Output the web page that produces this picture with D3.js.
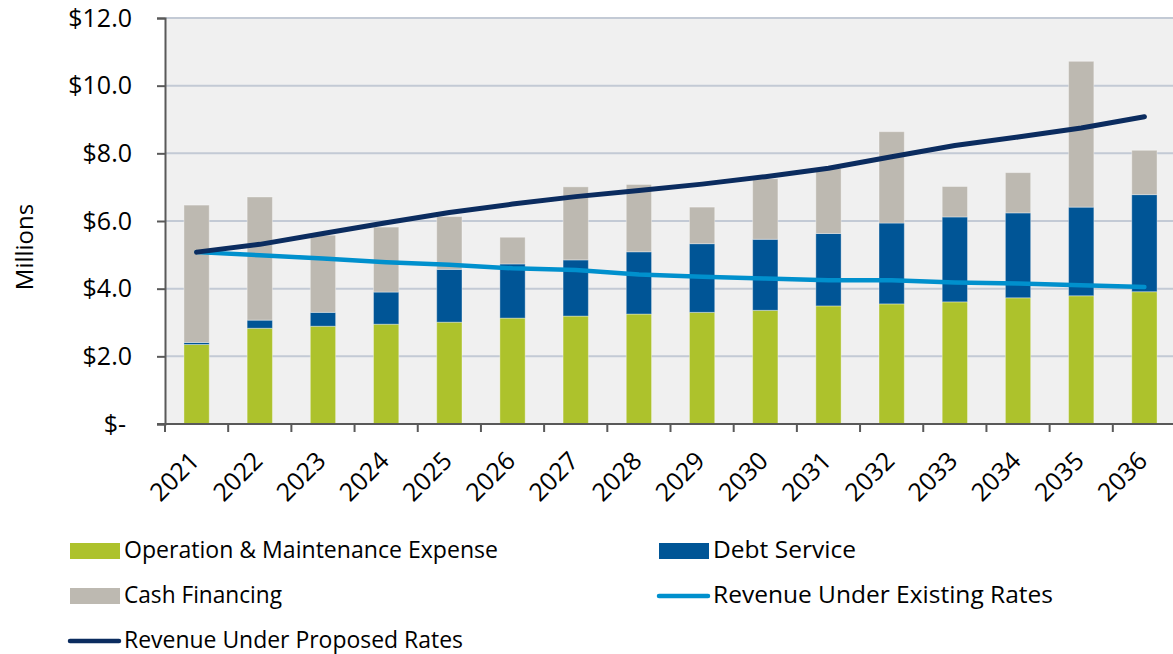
<!DOCTYPE html>
<html>
<head>
<meta charset="utf-8">
<script src="https://cdn.jsdelivr.net/npm/d3@7"></script>
<style>
  body { margin: 0; background: #fff; }
  svg { display: block; font-family: 'Open Sans', sans-serif; }
</style>
</head>
<body>
<svg width="1173" height="654"></svg>
<script>
// values in $ millions
const years = ['2021', '2022', '2023', '2024', '2025', '2026', '2027', '2028',
  '2029', '2030', '2031', '2032', '2033', '2034', '2035', '2036'];
const omExpense = [2.35, 2.83, 2.89, 2.95, 3.01, 3.13, 3.19, 3.25, 3.30, 3.36, 3.49, 3.55, 3.61, 3.73, 3.79, 3.91];
const debtService = [0.06, 0.24, 0.41, 0.95, 1.56, 1.60, 1.66, 1.84, 2.03, 2.10, 2.14, 2.39, 2.51, 2.51, 2.62, 2.87];
const cashFinancing = [4.06, 3.64, 2.28, 1.92, 1.56, 0.79, 2.16, 1.99, 1.08, 1.79, 1.92, 2.70, 0.90, 1.19, 4.31, 1.31];
const existingRates = [5.08, 4.99, 4.89, 4.78, 4.71, 4.60, 4.55, 4.42, 4.35, 4.30, 4.25, 4.25, 4.18, 4.15, 4.10, 4.05];
const proposedRates = [5.08, 5.31, 5.63, 5.95, 6.25, 6.50, 6.72, 6.90, 7.09, 7.31, 7.56, 7.90, 8.23, 8.48, 8.75, 9.08];
const yTicks = [0, 2, 4, 6, 8, 10, 12];

const svg = d3.select('svg');
const width = +svg.attr('width');
const plotLeft = 165, plotTop = 18, plotBottom = 424;

const x = d3.scaleBand()
  .domain(years)
  .range([plotLeft, 1176])
  .paddingInner(0.6)
  .paddingOuter(0.3);
const y = d3.scaleLinear().domain([0, 12]).range([plotBottom, plotTop]);

// plot background
svg.append('rect')
  .attr('x', plotLeft).attr('y', plotTop)
  .attr('width', width - plotLeft).attr('height', plotBottom - plotTop)
  .attr('fill', '#f0f0f0');

// gridlines
svg.append('g')
  .selectAll('line')
  .data(yTicks.filter(d => d > 0))
  .enter().append('line')
    .attr('x1', plotLeft).attr('x2', width)
    .attr('y1', d => y(d)).attr('y2', d => y(d))
    .attr('stroke', '#c3cad5')
    .attr('stroke-width', 2);

// stacked bars
const rows = years.map((yr, i) => ({
  year: yr, om: omExpense[i], debt: debtService[i], cash: cashFinancing[i],
}));
const stack = d3.stack().keys(['om', 'debt', 'cash'])(rows);
const barColor = { om: '#adc22c', debt: '#005596', cash: '#bdb9b1' };

svg.append('g')
  .selectAll('g')
  .data(stack)
  .enter().append('g')
    .attr('fill', d => barColor[d.key])
  .selectAll('rect')
  .data(d => d)
  .enter().append('rect')
    .attr('x', d => x(d.data.year))
    .attr('width', x.bandwidth())
    .attr('y', d => y(d[1]))
    .attr('height', d => y(d[0]) - y(d[1]))
    .attr('stroke', 'rgba(255,255,255,0.35)')
    .attr('stroke-width', 1);

// revenue lines
const line = d3.line()
  .x((d, i) => x(years[i]) + x.bandwidth() / 2)
  .y(d => y(d));

svg.append('path')
  .datum(existingRates)
  .attr('d', line)
  .attr('fill', 'none')
  .attr('stroke', '#0090cd')
  .attr('stroke-width', 4.5)
  .attr('stroke-linecap', 'round')
  .attr('stroke-linejoin', 'round');

svg.append('path')
  .datum(proposedRates)
  .attr('d', line)
  .attr('fill', 'none')
  .attr('stroke', '#0b2c5f')
  .attr('stroke-width', 5)
  .attr('stroke-linecap', 'round')
  .attr('stroke-linejoin', 'round');

// y axis
const yAxis = svg.append('g')
  .attr('transform', `translate(${plotLeft},0)`)
  .call(d3.axisLeft(y)
    .tickValues(yTicks)
    .tickSize(8)
    .tickPadding(25)
    .tickFormat(d => (d === 0 ? '$-' : '$' + d.toFixed(1))));
yAxis.select('.domain').attr('stroke', '#595959').attr('stroke-width', 2);
yAxis.selectAll('.tick line').attr('stroke', '#595959').attr('stroke-width', 2);
yAxis.selectAll('.tick text')
  .attr('fill', '#000')
  .style('font-size', '25px')
  .style('font-family', "'Open Sans', sans-serif");
yAxis.selectAll('.tick').filter(d => d === 0).select('text').attr('dx', -6);

svg.append('text')
  .attr('transform', 'translate(33,247) rotate(-90)')
  .attr('text-anchor', 'middle')
  .style('font-size', '24px')
  .text('Millions');

// x axis
const step = x.step();
const xAxis = svg.append('g');
xAxis.append('line')
  .attr('x1', plotLeft - 8).attr('x2', width)
  .attr('y1', plotBottom).attr('y2', plotBottom)
  .attr('stroke', '#595959').attr('stroke-width', 2);
xAxis.selectAll('.xtick')
  .data(d3.range(years.length + 1))
  .enter().append('line')
    .attr('x1', i => plotLeft + i * step).attr('x2', i => plotLeft + i * step)
    .attr('y1', plotBottom).attr('y2', plotBottom + 8)
    .attr('stroke', '#595959').attr('stroke-width', 2);
xAxis.selectAll('text')
  .data(years)
  .enter().append('text')
    .attr('transform', d => `translate(${x(d) + x.bandwidth() / 2 - 8},${plotBottom + 26}) rotate(-45)`)
    .attr('text-anchor', 'end')
    .attr('dy', '0.7em')
    .style('font-size', '25px')
    .text(d => d);

// legend
const legendItems = [
  { label: 'Operation & Maintenance Expense', type: 'rect', color: '#adc22c', x: 70, y: 551, w: 374 },
  { label: 'Debt Service', type: 'rect', color: '#005596', x: 659, y: 551, w: 143 },
  { label: 'Cash Financing', type: 'rect', color: '#bdb9b1', x: 70, y: 596, w: 158 },
  { label: 'Revenue Under Existing Rates', type: 'line', color: '#0090cd', x: 659, y: 596, w: 340 },
  { label: 'Revenue Under Proposed Rates', type: 'line', color: '#0b2c5f', x: 70, y: 641, w: 339 },
];
const legend = svg.append('g')
  .selectAll('g')
  .data(legendItems)
  .enter().append('g')
    .attr('transform', d => `translate(${d.x},${d.y})`);
legend.filter(d => d.type === 'rect').append('rect')
  .attr('x', 0).attr('y', -8).attr('width', 50).attr('height', 16)
  .attr('fill', d => d.color);
legend.filter(d => d.type === 'line').append('line')
  .attr('x1', 0).attr('x2', 49).attr('y1', 0).attr('y2', 0)
  .attr('stroke', d => d.color).attr('stroke-width', 4.5).attr('stroke-linecap', 'round');
legend.append('text')
  .attr('x', 54)
  .attr('y', 6.5)
  .attr('textLength', d => d.w)
  .attr('lengthAdjust', 'spacingAndGlyphs')
  .style('font-size', '24px')
  .text(d => d.label);
</script>
</body>
</html>
